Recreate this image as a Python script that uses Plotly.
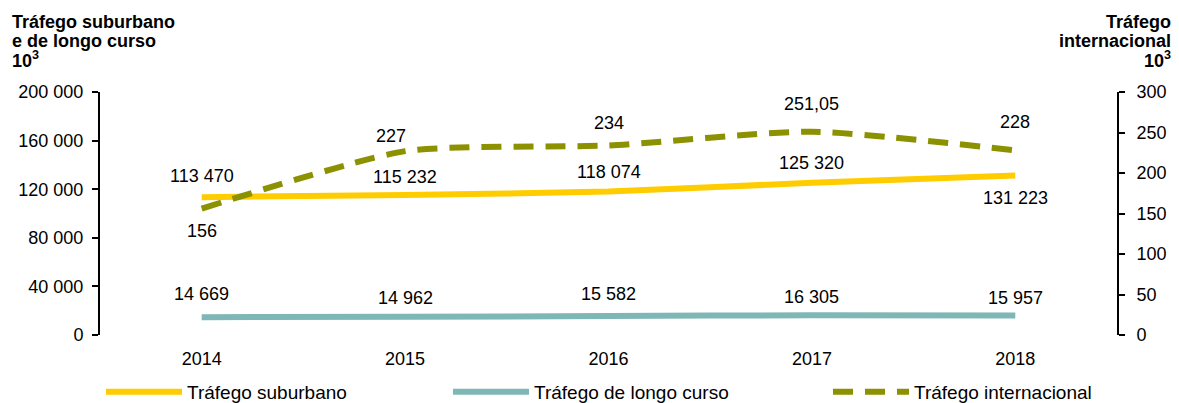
import plotly.graph_objects as go

years = ["2014", "2015", "2016", "2017", "2018"]
suburbano = [113470, 115232, 118074, 125320, 131223]
longo = [14669, 14962, 15582, 16305, 15957]
internacional = [156, 227, 234, 251.05, 228]

sub_text = ["113 470", "115 232", "118 074", "125 320", "131 223"]
longo_text = ["14 669", "14 962", "15 582", "16 305", "15 957"]
int_text = ["156", "227", "234", "251,05", "228"]

left_ticks = [0, 40000, 80000, 120000, 160000, 200000]
left_tick_text = ["0", "40 000", "80 000", "120 000", "160 000", "200 000"]
right_ticks = [0, 50, 100, 150, 200, 250, 300]

# label offsets (pixels) – styling only
sub_shift = [21, 18, 20, 20, -22]
longo_shift = [23, 19, 22, 18, 18]
int_shift = [-22, 15, 22, 28, 28]
int_xshift = [0, -14, 0, 0, 0]

FONT = "Liberation Sans, Arial, sans-serif"
C_SUB = "#FFCC00"
C_LONGO = "#7FB6B6"
C_INT = "#8C9100"
FS = 18

# page body has an 8px margin: figure sized to fit the 1179x403 window
W, H = 1171, 395
PL, PT, PW, PH = 100, 92, 1017, 243   # plot area in window pixels

fig = go.Figure()
fig.add_trace(go.Scatter(
    x=years, y=suburbano, name="Tráfego suburbano", mode="lines",
    line=dict(color=C_SUB, width=6, shape="spline", smoothing=0.6),
    legend="legend"))
fig.add_trace(go.Scatter(
    x=years, y=longo, name="Tráfego de longo curso", mode="lines",
    line=dict(color=C_LONGO, width=6, shape="spline", smoothing=0.6),
    legend="legend2"))
fig.add_trace(go.Scatter(
    x=years, y=internacional, name="Tráfego internacional", mode="lines",
    line=dict(color=C_INT, width=6, dash="20px,12px", shape="spline", smoothing=0.6),
    yaxis="y2", legend="legend3"))

annotations = []
for i, (yv, t, s) in enumerate(zip(suburbano, sub_text, sub_shift)):
    annotations.append(dict(x=i, y=yv, xref="x", yref="y", text=t, showarrow=False,
                            yshift=s, font=dict(size=FS)))
for i, (yv, t, s) in enumerate(zip(longo, longo_text, longo_shift)):
    annotations.append(dict(x=i, y=yv, xref="x", yref="y", text=t, showarrow=False,
                            yshift=s, font=dict(size=FS)))
for i, (yv, t, s, xs) in enumerate(zip(internacional, int_text, int_shift, int_xshift)):
    annotations.append(dict(x=i, y=yv, xref="x", yref="y2", text=t, showarrow=False,
                            yshift=s, xshift=xs, font=dict(size=FS)))

# axis titles
left_lines = ["<b>Tráfego suburbano</b>", "<b>e de longo curso</b>", "<b>10<sup>3</sup></b>"]
right_lines = ["<b>Tráfego</b>", "<b>internacional</b>", "<b>10<sup>3</sup></b>"]
title_py = [22, 41, 59]
for txt, py in zip(left_lines, title_py):
    annotations.append(dict(text=txt, xref="paper", yref="paper",
                            x=(10 - PL) / PW, y=(PT + PH - py) / PH,
                            xanchor="left", yanchor="middle", showarrow=False,
                            font=dict(size=FS)))
for txt, py in zip(right_lines, title_py):
    annotations.append(dict(text=txt, xref="paper", yref="paper",
                            x=(1173 - PL) / PW, y=(PT + PH - py) / PH,
                            xanchor="right", yanchor="middle", showarrow=False,
                            font=dict(size=FS)))

leg_y = (PT + PH - 392) / PH
def leg(px):
    return dict(orientation="h", x=(px - PL) / PW, xanchor="left", y=leg_y,
                yanchor="middle", font=dict(size=19), itemwidth=76,
                bgcolor="rgba(0,0,0,0)")

fig.update_layout(
    width=W, height=H,
    margin=dict(l=PL - 8, r=W - (PL - 8) - PW, t=PT - 8, b=H - (PT - 8) - PH,
                autoexpand=False),
    paper_bgcolor="white", plot_bgcolor="white",
    font=dict(family=FONT, size=FS, color="#000000"),
    xaxis=dict(type="category", range=[-0.5, 4.5], showline=False, showgrid=False,
               ticks="", ticklabelstandoff=11, tickfont=dict(size=FS), zeroline=False),
    yaxis=dict(range=[0, 200000], tickvals=left_ticks, ticktext=left_tick_text,
               showline=True, linecolor="#000000", linewidth=2, ticks="outside",
               ticklen=6, tickwidth=2, tickcolor="#000000", showgrid=False,
               ticklabelstandoff=5, zeroline=False, tickfont=dict(size=FS)),
    yaxis2=dict(range=[0, 300], tickvals=right_ticks, overlaying="y", side="right",
                showline=True, linecolor="#000000", linewidth=2, ticks="outside",
                ticklen=6, tickwidth=2, tickcolor="#000000", showgrid=False,
                ticklabelstandoff=8, zeroline=False, tickfont=dict(size=FS)),
    legend=leg(101),
    legend2=leg(448),
    legend3=leg(828),
    showlegend=True,
    annotations=annotations,
)

fig.write_html("out.html")
